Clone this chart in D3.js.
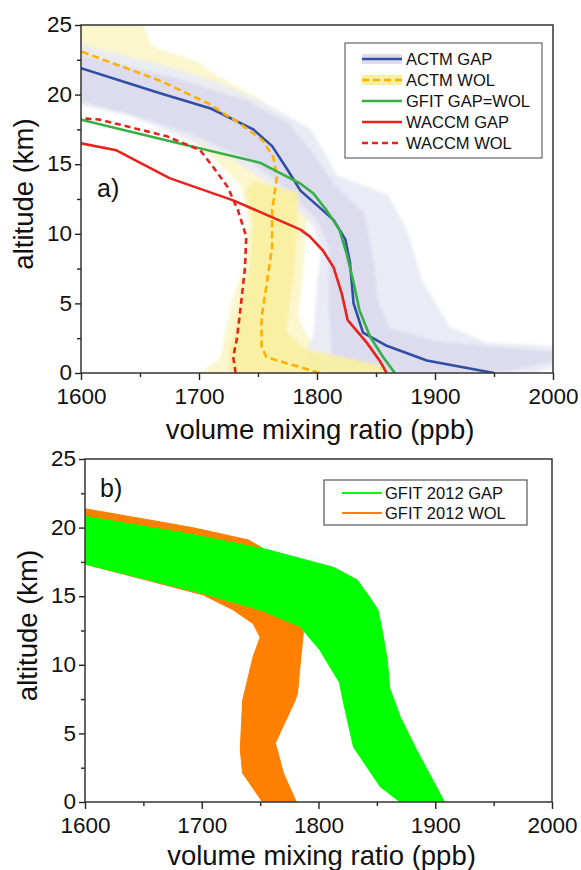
<!DOCTYPE html>
<html>
<head>
<meta charset="utf-8">
<script src="https://cdn.jsdelivr.net/npm/d3@7"></script>
<style>
  body { margin: 0; background: #fff; }
  svg text { font-family: "Liberation Sans", Arial, sans-serif; fill: #111; }
</style>
</head>
<body>
<div id="chart"></div>
<script>
// ---- panel a: profiles, [vmr (ppb), altitude (km)] ----
const actmGap = [[1950,0],[1893,0.9],[1858,2.0],[1839,2.9],[1831,5.0],[1828,7.9],[1824,9.6],[1814,11.0],[1786,13.1],[1775,14.6],[1762,16.3],[1746,17.5],[1710,19.0],[1667,20.1],[1600,21.9]];
const actmWol = [[1802,0],[1785,0.45],[1774,0.7],[1757,1.15],[1753,1.9],[1753,4.0],[1757,6.2],[1762,9.1],[1762,11.7],[1766,14.1],[1763,15.5],[1754,16.7],[1735,17.9],[1707,19.4],[1667,21.0],[1600,23.1]];
const gfitGapWol = [[1866,0],[1856,1.15],[1845,2.6],[1836,4.5],[1831,6.5],[1825,8.6],[1819,10.3],[1808,11.7],[1797,12.9],[1786,13.6],[1752,15.1],[1673,16.7],[1600,18.2]];
const waccmGap = [[1859,0],[1853,0.9],[1842,2.2],[1826,3.8],[1821,5.7],[1814,7.6],[1805,8.8],[1794,9.8],[1786,10.3],[1729,12.4],[1675,14.0],[1630,16.0],[1600,16.5]];
const waccmWol = [[1731,0],[1729,1.15],[1732,2.4],[1735,4.5],[1739,7.6],[1740,9.8],[1733,11.7],[1724,13.4],[1712,14.8],[1701,16.0],[1673,17.0],[1616,18.2],[1600,18.3]];

// ACTM ensemble spread (outline: outer fringe and dense core)
const actmGapOuter = [[1600,23.6],[1683,21.8],[1725,20.6],[1767,18.9],[1795,17.5],[1806,15.9],[1817,14.2],[1860,12.8],[1876,10.3],[1890,6.5],[1913,3.3],[1944,2.2],[2005,1.9],[2005,0.6],[1985,0],
  [1790,0],[1792,1.5],[1797,2.9],[1800,6.5],[1803,8.8],[1797,10.5],[1775,12.5],[1752,14.0],[1726,15.5],[1684,17.0],[1641,18.5],[1595,19.3]];
const actmGapCore = [[1595,22.9],[1680,21.2],[1740,19.6],[1775,18.0],[1795,16.0],[1815,13.5],[1840,11.5],[1848,8],[1852,5],[1862,3.2],[1900,2.3],[1960,1.8],[2005,1.5],[2005,0.9],[1960,0.1],[1955,0],
  [1812,0],[1812,2],[1810,5],[1810,9],[1800,11],[1775,13.2],[1740,15.4],[1690,17.3],[1640,18.6],[1595,19.6]];
const actmWolOuter = [[1595,25.5],[1650,25.5],[1660,23.5],[1700,22.3],[1712,21.5],[1750,19.8],[1778,18],[1792,16],[1795,13],[1790,10],[1788,7],[1784,4],[1795,2.2],[1840,1.3],[1870,0.6],[1880,0],
  [1700,0],[1718,1],[1722,2.9],[1728,5.2],[1738,7.6],[1742,11],[1735,13.5],[1712,15.5],[1680,17.5],[1640,19],[1595,20.5]];
const actmWolCore = [[1745,13.8],[1784,13],[1783,10],[1781,7.6],[1777,5.2],[1774,2.9],[1790,1.7],[1830,1.0],[1855,0.5],[1860,0],
  [1726,0],[1726,1.7],[1730,2.9],[1736,5.2],[1743,7.6],[1746,11],[1740,13]];

// ---- panel b: GFIT 2012 ensembles (outline of the bundle of profiles) ----
const gfitWolBundle = [[1595,21.45],[1692,20.0],[1740,19.1],[1758,18.2],[1775,16.0],[1785,14.0],[1787,12.3],[1784,9.8],[1782,7.9],[1780,7.4],[1763,4.3],[1770,2.1],[1781,0],
  [1752,0],[1735,2.1],[1733,3.8],[1735,7.4],[1744,10.6],[1750,12.0],[1744,13.0],[1727,14.0],[1701,15.1],[1595,17.45]];
const gfitGapBundle = [[1595,20.9],[1692,19.5],[1756,18.4],[1813,17.1],[1833,16.2],[1844,14.9],[1851,14.0],[1855,12.3],[1859,10.3],[1861,8.3],[1870,6.2],[1884,3.8],[1908,0],
  [1870,0],[1853,1.1],[1830,4.0],[1821,7.4],[1818,8.7],[1801,11.1],[1784,12.8],[1750,14.0],[1701,15.2],[1595,17.45]];

const xTicks = [1600, 1700, 1800, 1900, 2000];
const xMinor = [1650, 1750, 1850, 1950];
const yTicks = [0, 5, 10, 15, 20, 25];
const yMinor = [2.5, 7.5, 12.5, 17.5, 22.5];

const legendA = ['ACTM GAP', 'ACTM WOL', 'GFIT GAP=WOL', 'WACCM GAP', 'WACCM WOL'];
const legendB = ['GFIT 2012 GAP', 'GFIT 2012 WOL'];

const width = 581, height = 870;
const svg = d3.select('#chart').append('svg')
  .attr('width', width)
  .attr('height', height);

// soft edge so the spread looks like a pile of thin lines
svg.append('filter').attr('id', 'soft')
  .attr('x', '-5%').attr('y', '-5%').attr('width', '110%').attr('height', '110%')
  .append('feGaussianBlur').attr('stdDeviation', 1.6);

const boxA = {left: 81, right: 553, top: 25, bottom: 373};
const boxB = {left: 85, right: 552, top: 459, bottom: 802};

function scales(b) {
  return {
    x: d3.scaleLinear().domain([1600, 2000]).range([b.left, b.right]),
    y: d3.scaleLinear().domain([0, 25]).range([b.bottom, b.top])
  };
}

function clipFor(id, b) {
  svg.append('clipPath').attr('id', id)
    .append('rect')
    .attr('x', b.left).attr('y', b.top)
    .attr('width', b.right - b.left).attr('height', b.bottom - b.top);
}

function drawAxes(b, x, y, titleY, yTitleX) {
  const g = svg.append('g');

  let xa = g.append('g')
    .attr('transform', 'translate(0,' + b.bottom + ')')
    .call(d3.axisBottom(x).tickValues(xTicks).tickSize(7).tickPadding(8).tickFormat(d3.format('d')));
  let xm = g.append('g')
    .attr('transform', 'translate(0,' + b.bottom + ')')
    .call(d3.axisBottom(x).tickValues(xMinor).tickSize(4).tickFormat(''));
  let ya = g.append('g')
    .attr('transform', 'translate(' + b.left + ',0)')
    .call(d3.axisLeft(y).tickValues(yTicks).tickSize(6).tickPadding(3));
  let ym = g.append('g')
    .attr('transform', 'translate(' + b.left + ',0)')
    .call(d3.axisLeft(y).tickValues(yMinor).tickSize(4).tickFormat(''));

  [xa, xm, ya, ym].forEach(a => {
    a.select('.domain').remove();
    a.selectAll('line').attr('stroke', '#222').attr('stroke-width', 1.4);
    a.selectAll('text').attr('font-size', 22.5).attr('font-family', '"Liberation Sans", Arial, sans-serif').attr('fill', '#111');
  });
  ya.selectAll('text').attr('dy', '0.3em');

  // frame
  g.append('rect')
    .attr('x', b.left).attr('y', b.top)
    .attr('width', b.right - b.left).attr('height', b.bottom - b.top)
    .attr('fill', 'none').attr('stroke', '#333').attr('stroke-width', 1.5);

  g.append('text')
    .attr('x', (b.left + b.right) / 2 + 3).attr('y', titleY)
    .attr('text-anchor', 'middle').attr('font-size', 27.5)
    .text('volume mixing ratio (ppb)');

  g.append('text')
    .attr('transform', 'translate(' + yTitleX + ',' + ((b.top + b.bottom) / 2 - 5) + ') rotate(-90)')
    .attr('text-anchor', 'middle').attr('font-size', 27.5)
    .text('altitude (km)');
}

// ---------------- panel a ----------------
const sa = scales(boxA);
clipFor('clipA', boxA);
const lineA = d3.line().x(d => sa.x(d[0])).y(d => sa.y(d[1]));
const polyA = pts => lineA(pts) + 'Z';

const gA = svg.append('g').attr('clip-path', 'url(#clipA)');
const bands = gA.append('g').attr('filter', 'url(#soft)');

bands.append('path').attr('d', polyA(actmWolOuter)).attr('fill', '#fbf6cc');
bands.append('path').attr('d', polyA(actmGapOuter)).attr('fill', '#e9e9f5').attr('opacity', 0.92);
bands.append('path').attr('d', polyA(actmGapCore)).attr('fill', '#dcdcee');
bands.append('path').attr('d', polyA(actmWolCore)).attr('fill', '#f8ef9f').attr('opacity', 0.92);

const profilesA = [
  {data: actmGap, color: '#2f4fa2', dash: null},
  {data: actmWol, color: '#ffb000', dash: '7,4'},
  {data: gfitGapWol, color: '#34b045', dash: null},
  {data: waccmGap, color: '#e8231c', dash: null},
  {data: waccmWol, color: '#e8231c', dash: '6,4'}
];

gA.selectAll('.profile')
  .data(profilesA)
  .enter()
  .append('path')
  .attr('class', 'profile')
  .attr('d', d => lineA(d.data))
  .attr('fill', 'none')
  .attr('stroke', d => d.color)
  .attr('stroke-width', 2.6)
  .attr('stroke-linejoin', 'round')
  .attr('stroke-dasharray', d => d.dash);

drawAxes(boxA, sa.x, sa.y, 439, 33);

svg.append('text').attr('x', 97).attr('y', 197).attr('font-size', 25).text('a)');

// legend a
const legA = svg.append('g');
legA.append('rect')
  .attr('x', 345).attr('y', 43).attr('width', 197).attr('height', 115)
  .attr('fill', '#fff').attr('stroke', '#666').attr('stroke-width', 1.2);
legendA.forEach((name, i) => {
  const ly = 59 + i * 21;
  if (i === 0) legA.append('rect').attr('x', 362).attr('y', ly - 5).attr('width', 40).attr('height', 10).attr('fill', '#dcdcee');
  if (i === 1) legA.append('rect').attr('x', 362).attr('y', ly - 5).attr('width', 40).attr('height', 10).attr('fill', '#f8ef9f');
  legA.append('line')
    .attr('x1', 362).attr('x2', 402).attr('y1', ly).attr('y2', ly)
    .attr('stroke', profilesA[i].color).attr('stroke-width', 2.6)
    .attr('stroke-dasharray', profilesA[i].dash);
  legA.append('text')
    .attr('x', 406).attr('y', ly).attr('dy', '0.36em')
    .attr('font-size', 16.5).text(name);
});

// ---------------- panel b ----------------
const sb = scales(boxB);
clipFor('clipB', boxB);
const lineB = d3.line().x(d => sb.x(d[0])).y(d => sb.y(d[1]));

const gB = svg.append('g').attr('clip-path', 'url(#clipB)');
gB.append('path').attr('d', lineB(gfitWolBundle) + 'Z')
  .attr('fill', '#ff8000').attr('stroke', '#ff8000').attr('stroke-width', 1).attr('stroke-linejoin', 'round');
gB.append('path').attr('d', lineB(gfitGapBundle) + 'Z')
  .attr('fill', '#00ff00').attr('stroke', '#00ff00').attr('stroke-width', 1).attr('stroke-linejoin', 'round');

drawAxes(boxB, sb.x, sb.y, 865, 37);

svg.append('text').attr('x', 100).attr('y', 497).attr('font-size', 25).text('b)');

const legB = svg.append('g');
legB.append('rect')
  .attr('x', 324).attr('y', 480).attr('width', 203).attr('height', 45)
  .attr('fill', '#fff').attr('stroke', '#555').attr('stroke-width', 1.2);
const colorsB = ['#00ff00', '#ff8000'];
legendB.forEach((name, i) => {
  const ly = 493 + i * 20;
  legB.append('line')
    .attr('x1', 342).attr('x2', 382).attr('y1', ly).attr('y2', ly)
    .attr('stroke', colorsB[i]).attr('stroke-width', 2);
  legB.append('text')
    .attr('x', 385).attr('y', ly).attr('dy', '0.36em')
    .attr('font-size', 16.5).text(name);
});
</script>
</body>
</html>
